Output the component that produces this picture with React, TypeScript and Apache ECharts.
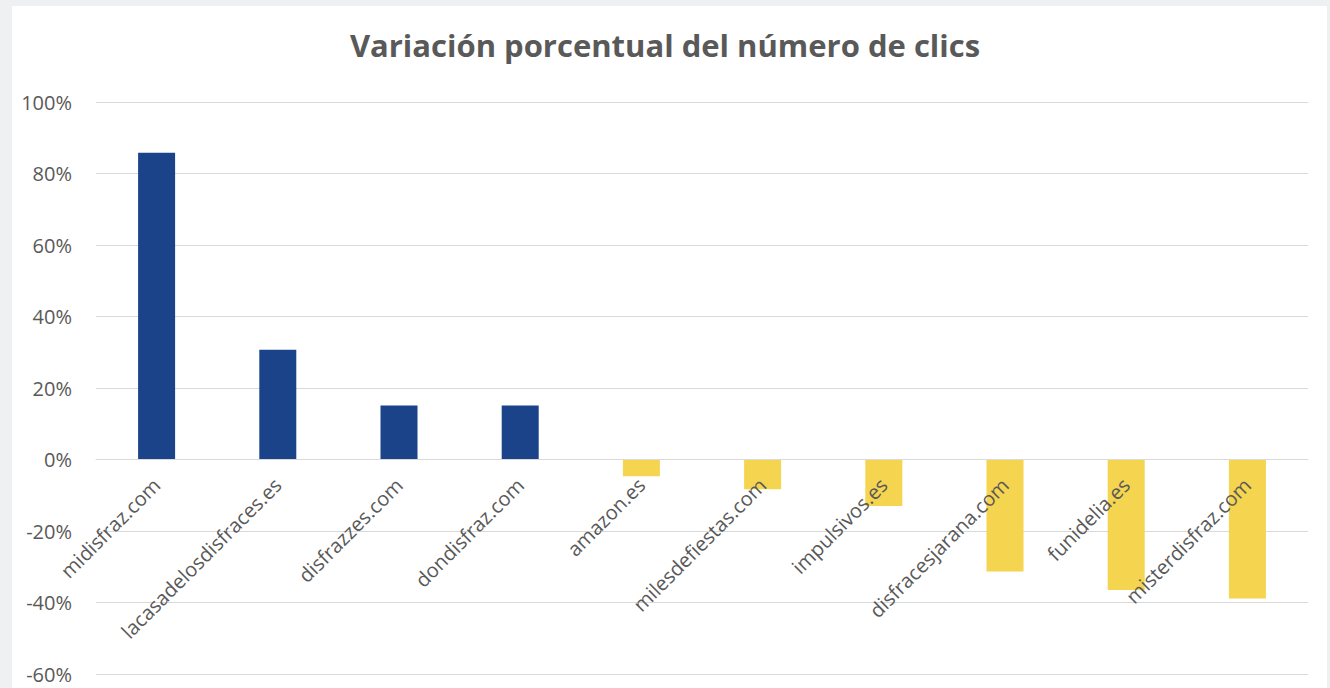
import React, { useEffect, useRef } from "react";
import * as echarts from "echarts";

const categories = [
  "midisfraz.com",
  "lacasadelosdisfraces.es",
  "disfrazzes.com",
  "dondisfraz.com",
  "amazon.es",
  "milesdefiestas.com",
  "impulsivos.es",
  "disfracesjarana.com",
  "funidelia.es",
  "misterdisfraz.com",
];
const values = [85.8, 30.7, 15.1, 15.1, -4.7, -8.3, -13.0, -31.3, -36.5, -38.9];
const yTicks = { min: -60, max: 100, interval: 20 };
const title = "Variación porcentual del número de clics";

const BLUE = "#1B4389";
const YELLOW = "#F5D44F";

const GRID_TOP = 102;
const GRID_BOTTOM = 14;
const CHART_H = 688;

export default function App() {
  const ref = useRef<HTMLDivElement>(null);
  useEffect(() => {
    document.body.style.margin = "0";
    const chart = echarts.init(ref.current!, null, { renderer: "svg" });
    const gridH = CHART_H - GRID_TOP - GRID_BOTTOM;
    const zeroFromBottom = (gridH * (0 - yTicks.min)) / (yTicks.max - yTicks.min);
    chart.setOption({
      animation: false,
      backgroundColor: "#EFF0F2",
      textStyle: { fontFamily: "Open Sans" },
      graphic: [
        {
          type: "rect",
          z: -10,
          shape: { x: 12, y: 6, width: 1315, height: 690 },
          style: { fill: "#FFFFFF" },
        },
      ],
      title: {
        text: title,
        left: "center",
        top: 24,
        textStyle: {
          fontFamily: "Open Sans",
          fontWeight: "bold",
          fontSize: 31,
          color: "#595959",
        },
      },
      grid: {
        left: 96,
        right: 22,
        top: GRID_TOP,
        bottom: GRID_BOTTOM,
        containLabel: false,
        outerBoundsMode: "none",
      },
      xAxis: {
        type: "category",
        data: categories,
        offset: -zeroFromBottom,
        z: 10,
        axisLine: { onZero: false, lineStyle: { color: "#D9D9D9" } },
        axisTick: { show: false },
        axisLabel: {
          rotate: 45,
          interval: 0,
          margin: 22,
          fontSize: 20,
          color: "#595959",
          fontFamily: "Open Sans",
        },
      },
      yAxis: {
        type: "value",
        min: yTicks.min,
        max: yTicks.max,
        interval: yTicks.interval,
        axisLine: { show: false },
        axisTick: { show: false },
        splitLine: { lineStyle: { color: "#D9D9D9", width: 1 } },
        axisLabel: {
          formatter: (v: number) => `${v}%`,
          fontSize: 20,
          color: "#595959",
          margin: 24,
          fontFamily: "Open Sans",
        },
      },
      series: [
        {
          type: "bar",
          z: 2,
          data: values.map((v) => ({
            value: v,
            itemStyle: { color: v >= 0 ? BLUE : YELLOW },
          })),
          barWidth: 37,
        },
      ],
    });
    return () => chart.dispose();
  }, []);
  return <div ref={ref} style={{ width: 1330, height: CHART_H }} />;
}
